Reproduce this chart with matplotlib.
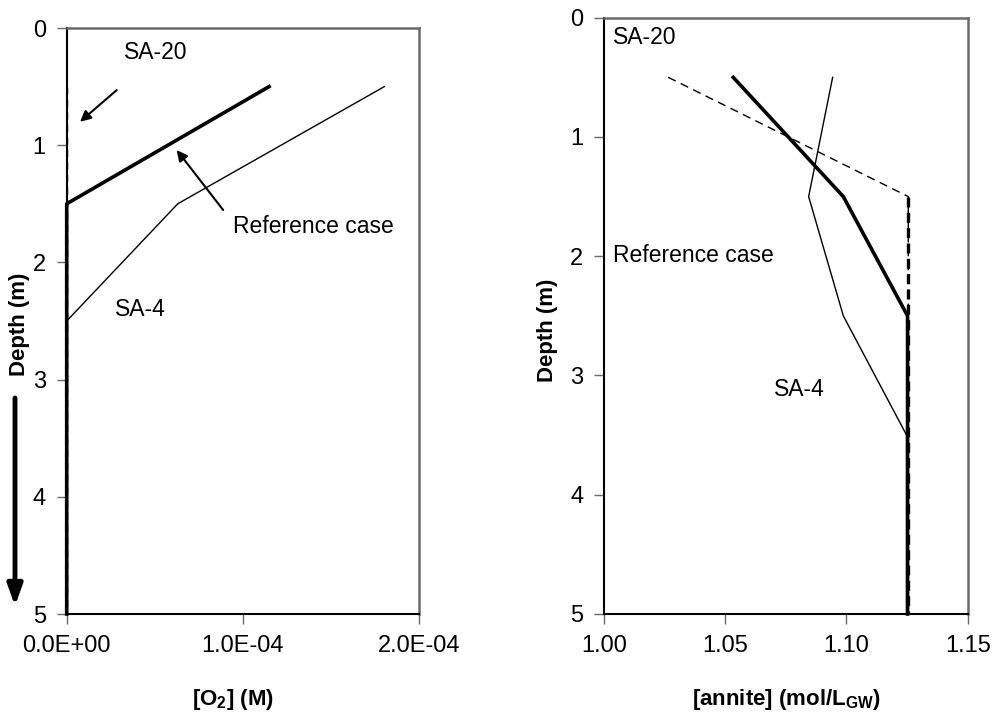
import matplotlib
matplotlib.use("Agg")
import matplotlib.pyplot as plt
from matplotlib.ticker import FuncFormatter

plt.rcParams['font.family'] = ['Liberation Sans', 'DejaVu Sans']
plt.rcParams['mathtext.fontset'] = 'custom'
plt.rcParams['mathtext.rm'] = 'Liberation Sans'
plt.rcParams['mathtext.bf'] = 'Liberation Sans:bold'

# ---- data ----
depth = [0.5, 1.5, 2.5, 3.5, 4.5, 5.0]

o2_reference = [1.15e-4, 0.0, 0.0, 0.0, 0.0, 0.0]
o2_sa4 = [1.805e-4, 0.631e-4, 0.0, 0.0, 0.0, 0.0]
o2_sa20 = [0.0, 0.0, 0.0, 0.0, 0.0, 0.0]

ann_reference = [1.0533, 1.0987, 1.1252, 1.1252, 1.1252, 1.1252]
ann_sa4 = [1.0943, 1.0844, 1.0987, 1.1248, 1.1248, 1.1248]
ann_sa20 = [1.0265, 1.1255, 1.1255, 1.1255, 1.1255, 1.1255]

left_xticks = [0.0, 1.0e-4, 2.0e-4]
right_xticks = [1.00, 1.05, 1.10, 1.15]
yticks = [0, 1, 2, 3, 4, 5]

W, H = 994, 714
fig = plt.figure(figsize=(W / 100, H / 100), dpi=100)

ax1 = fig.add_axes([66.7 / W, 1 - 614 / H, (418.7 - 66.7) / W, (614 - 28) / H])
ax2 = fig.add_axes([604 / W, 1 - 614 / H, (967.7 - 604) / W, (614 - 17.7) / H])

TFS = 17    # tick labels
FS = 16.5   # annotations
LFS = 16    # axis labels
GRAY = '#6a6a6a'

def style(ax):
    for s in ['left', 'bottom']:
        ax.spines[s].set_color('black')
        ax.spines[s].set_linewidth(1.5)
    for s in ['top', 'right']:
        ax.spines[s].set_color(GRAY)
        ax.spines[s].set_linewidth(1.8)
    ax.tick_params(direction='out', length=7, width=1, color=GRAY,
                   labelsize=TFS, pad=8, top=False, right=False)
    ax.set_ylim(5, 0)
    ax.set_yticks(yticks)
    ax.set_yticklabels([str(t) for t in yticks])

# ---- left panel ----
style(ax1)
ax1.set_xlim(0, 2.0e-4)
ax1.set_xticks(left_xticks)
ax1.xaxis.set_major_formatter(FuncFormatter(
    lambda v, p: "0.0E+00" if v == 0 else "%.1E" % v))
ax1.plot(o2_sa20, depth, color='black', lw=1.0, ls=(0, (5, 4)), clip_on=False)
ax1.plot(o2_sa4, depth, color='black', lw=1.0, clip_on=False)
ax1.plot(o2_reference, depth, color='black', lw=2.6, clip_on=False)

ax1.text(0.505e-4, 0.21, 'SA-20', fontsize=FS, ha='center', va='center')
ax1.annotate('', xy=(0.0756e-4, 0.80), xytext=(0.284e-4, 0.53),
             arrowprops=dict(arrowstyle='-|>', color='black', lw=1.5,
                             mutation_scale=16, shrinkA=0, shrinkB=0))
ax1.text(1.40e-4, 1.695, 'Reference case', fontsize=FS, ha='center', va='center')
ax1.annotate('', xy=(0.625e-4, 1.041), xytext=(0.889e-4, 1.553),
             arrowprops=dict(arrowstyle='-|>', color='black', lw=1.5,
                             mutation_scale=16, shrinkA=0, shrinkB=0))
ax1.text(0.4165e-4, 2.40, 'SA-4', fontsize=FS, ha='center', va='center')

# ---- right panel ----
style(ax2)
ax2.set_xlim(1.00, 1.15)
ax2.set_xticks(right_xticks)
ax2.set_xticklabels(['%.2f' % t for t in right_xticks])
ax2.plot(ann_sa20, depth, color='black', lw=1.0, ls=(0, (6, 4)), clip_on=False)
ax2.plot(ann_sa20[1:], depth[1:], color='black', lw=2.4, ls=(0, (3, 1.6)), clip_on=False)
ax2.plot(ann_sa4, depth, color='black', lw=1.0, clip_on=False)
ax2.plot(ann_reference, depth, color='black', lw=2.6, clip_on=False)

ax2.text(1.0036, 0.168, 'SA-20', fontsize=FS, ha='left', va='center')
ax2.text(1.0036, 1.99, 'Reference case', fontsize=FS, ha='left', va='center')
ax2.text(1.0804, 3.12, 'SA-4', fontsize=FS, ha='center', va='center')

# ---- labels ----
fig.text(20 / W, 1 - 324 / H, 'Depth (m)', rotation=90, fontsize=LFS,
         fontweight='bold', ha='center', va='center')
fig.text(547 / W, 1 - 330 / H, 'Depth (m)', rotation=90, fontsize=LFS,
         fontweight='bold', ha='center', va='center')
fig.text(233 / W, 1 - 700 / H, r'[O$_\mathbf{2}$] (M)', fontsize=LFS,
         fontweight='bold', ha='center', va='center')
fig.text(786.7 / W, 1 - 700 / H, r'[annite] (mol/L$_\mathbf{GW}$)', fontsize=LFS,
         fontweight='bold', ha='center', va='center')

# big depth arrow
fig.add_artist(plt.Annotation('', xy=(15 / W, 1 - 606 / H), xytext=(15 / W, 1 - 398 / H),
                              xycoords='figure fraction', textcoords='figure fraction',
                              arrowprops=dict(arrowstyle='-|>,head_width=0.25,head_length=0.7',
                                              color='black', lw=3.5, mutation_scale=18,
                                              shrinkA=0, shrinkB=0)))

fig.savefig('out.png', dpi=100)
